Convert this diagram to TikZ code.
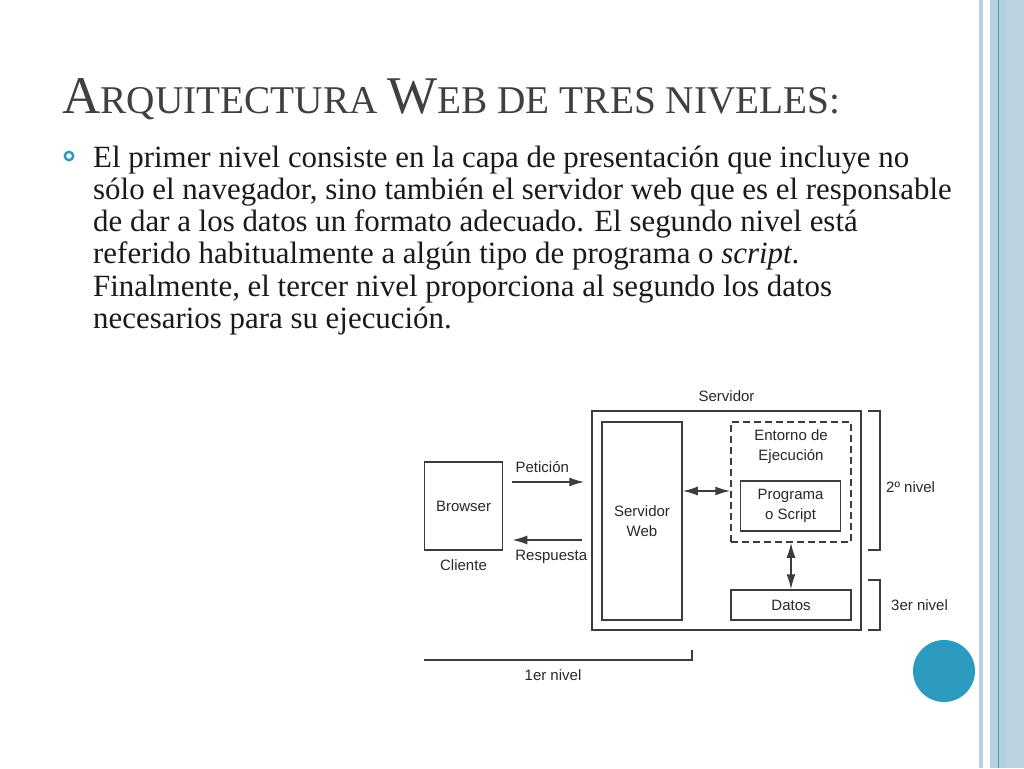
\documentclass[tikz,border=0pt]{standalone}
\usepackage{fontspec}
\setmainfont{Liberation Serif}
\newfontfamily\diagfont{Liberation Sans}
\usetikzlibrary{arrows.meta,positioning,calc}
\definecolor{TitleGray}{RGB}{64,64,64}
\definecolor{BodyBlack}{RGB}{26,26,26}
\definecolor{Teal}{RGB}{44,155,191}
\definecolor{StripeBlue}{RGB}{180,210,225}
\definecolor{StripeGray}{RGB}{186,212,224}
\definecolor{StripeDark}{RGB}{90,140,180}
\definecolor{BoxLine}{RGB}{60,60,60}
\definecolor{DiagText}{RGB}{40,40,40}
\tikzset{
  textline/.style={anchor=base west, inner sep=0pt, text=BodyBlack,
    font=\fontsize{30.9}{34}\selectfont},
  box/.style={draw=BoxLine, line width=1.5pt, inner sep=0pt, align=center,
    text=DiagText, font=\diagfont\fontsize{15}{19.5}\selectfont},
  envbox/.style={draw=BoxLine, line width=1.5pt, dash pattern=on 7pt off 4pt,
    inner sep=0pt},
  tag/.style={inner sep=0pt, align=center, text=DiagText,
    font=\diagfont\fontsize{15}{20}\selectfont},
  arrow/.style={-{Latex[length=15pt,width=9pt]}, line width=1.6pt, BoxLine},
  dblarrow/.style={{Latex[length=15pt,width=9pt]}-{Latex[length=15pt,width=9pt]},
    line width=1.6pt, BoxLine},
  bracket/.style={line width=1.5pt, BoxLine}
}
\begin{document}
\begin{tikzpicture}[x=1pt,y=-1pt]
\useasboundingbox (0,0) rectangle (1024,768);
\fill[white] (0,0) rectangle (1024,768);
% stripes on the right
\fill[StripeBlue] (979,0) rectangle (982.5,768);
\fill[StripeBlue] (990,0) rectangle (1007,768);
\fill[StripeGray] (1007,0) rectangle (1024,768);
\draw[StripeDark, line width=0.8pt] (998.5,0) -- (998.5,768);
% title and text
\node[anchor=base west, inner sep=0pt, text=TitleGray] (title) at (62,113)
  {\fontsize{53}{56}\selectfont A\fontsize{39.3}{44}\selectfont RQUITECTURA
   \fontsize{53}{56}\selectfont W\fontsize{39.3}{44}\selectfont EB DE TRES NIVELES:};
\draw[Teal, line width=2.4pt] (69,156) circle (4.2);
\node[textline] (line1) at (93,167) {El primer nivel consiste en la capa de presentación que incluye no};
\node[textline] (line2) at (93,199) {sólo el navegador, sino también el servidor web que es el responsable};
\node[textline] (line3) at (93,231) {de dar a los datos un formato adecuado. El segundo nivel está};
\node[textline] (line4) at (93,263) {referido habitualmente a algún tipo de programa o \textit{script}.};
\node[textline] (line5) at (93,296) {Finalmente, el tercer nivel proporciona al segundo los datos};
\node[textline] (line6) at (93,328) {necesarios para su ejecución.};
% diagram
\node[box, minimum width=78pt, minimum height=88pt] (browser) at (463.5,506) {Browser};
\node[tag, below=9pt of browser] (cliente) {Cliente};
\node[box, minimum width=269pt, minimum height=219pt] (server) at (726.5,520.5) {};
\node[tag, above=8pt of server] (servidor) {Servidor};
\node[box, minimum width=80pt, minimum height=198pt] (web) at (642,521) {Servidor\\Web};
\node[envbox, minimum width=120pt, minimum height=120pt] (entorno) at (791,482) {};
\node[tag, below=8pt of entorno.north] (entornotxt) {Entorno de\\Ejecución};
\node[box, minimum width=100pt, minimum height=50pt] (programa) at (790.5,506) {Programa\\o Script};
\node[box, minimum width=120pt, minimum height=30pt] (datos) at (791,605) {Datos};
\draw[arrow] ([shift={(9pt,24pt)}]browser.east) -- ([shift={(-7pt,24pt)}]browser.east -| server.west)
  node[tag, midway, above=9pt, xshift=-6pt] (peticion) {Petición};
\draw[arrow] ([shift={(-9pt,-34pt)}]browser.east -| server.west) -- ([shift={(9pt,-34pt)}]browser.east)
  node[tag, midway, below=9pt, xshift=4pt] (respuesta) {Respuesta};
\draw[dblarrow] ([yshift=30pt]web.east) -- ([yshift=30pt]web.east -| entorno.west);
\draw[dblarrow] (entorno.south) -- (datos.north);
% levels
\draw[bracket] (868,411) -- (880,411) -- (880,550) -- (868,550);
\node[tag, anchor=west] (nivel2) at (886,487) {2º nivel};
\draw[bracket] (868,580) -- (880,580) -- (880,630) -- (868,630);
\node[tag, anchor=west] (nivel3) at (891,605) {3er nivel};
\draw[bracket] (424,660) -- (692,660) -- (692,650);
\node[tag] (nivel1) at (553,675) {1er nivel};
\fill[Teal] (944,671) circle (31);
\end{tikzpicture}
\end{document}
